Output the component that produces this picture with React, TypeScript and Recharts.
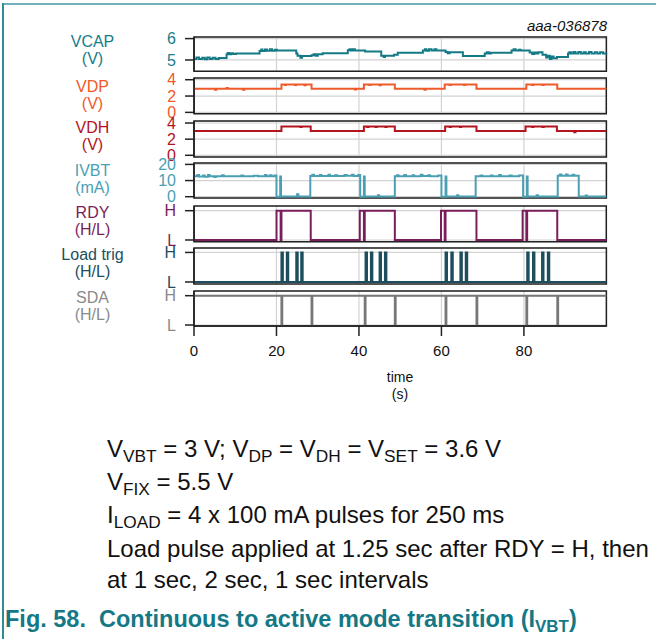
import { LineChart, Line, XAxis, YAxis, CartesianGrid, ReferenceArea } from 'recharts';

// time axis (s)
const timeTicks = [0, 20, 40, 60, 80];

// VCAP (V), step trace [t, v]
const vcap: [number, number][] = [
  [0, 5.04], [0.6, 5.11], [1.2, 5.04], [2.0, 5.1], [2.6, 5.03], [3.2, 5.11], [3.8, 5.05], [4.5, 5.1], [5.2, 5.04],
  [6.0, 5.09], [7.9, 5.27], [8.2, 5.33], [8.5, 5.27], [9.0, 5.32], [9.5, 5.28], [10.2, 5.3], [15.9, 5.42],
  [16.3, 5.49], [16.6, 5.42], [17.2, 5.49], [17.7, 5.43], [18.4, 5.5], [18.9, 5.43], [19.6, 5.48], [20.1, 5.44],
  [24.8, 5.3], [25.1, 5.2], [25.8, 5.1], [26.2, 5.19], [28.5, 5.22], [29.0, 5.27], [29.5, 5.2], [30.0, 5.27],
  [31.2, 5.32], [37.3, 5.45], [37.7, 5.5], [38.0, 5.44], [38.5, 5.5], [39.0, 5.44], [41.5, 5.4], [45.4, 5.2],
  [46.0, 5.14], [46.3, 5.2], [48.5, 5.24], [49.4, 5.34], [55.5, 5.44], [56.0, 5.5], [56.4, 5.43], [57.0, 5.5],
  [57.6, 5.44], [58.3, 5.5], [58.8, 5.44], [61.0, 5.37], [61.5, 5.31], [62.0, 5.36], [65.2, 5.19], [70.5, 5.3],
  [71.0, 5.36], [71.5, 5.3], [72.0, 5.34], [77.0, 5.44], [77.5, 5.5], [78.0, 5.44], [78.8, 5.48], [79.2, 5.44],
  [81.4, 5.35], [82.0, 5.28], [82.5, 5.35], [83.0, 5.3], [83.5, 5.36], [84.5, 5.25], [85.4, 5.12], [85.8, 5.2],
  [86.3, 5.05], [86.7, 5.16], [87.2, 5.08], [88.0, 5.14], [90.7, 5.3], [91.0, 5.36], [91.4, 5.3], [92.0, 5.37],
  [92.5, 5.3], [93.2, 5.37], [93.8, 5.3], [94.5, 5.36], [95.0, 5.3], [95.8, 5.37], [96.4, 5.3], [97.2, 5.36],
  [97.8, 5.3], [98.5, 5.36], [99.2, 5.3], [100, 5.32],
];

// VDP (V)
const vdp: [number, number][] = [
  [0, 2.9], [5.1, 2.78], [5.4, 2.9], [7.9, 3.0], [8.2, 2.9], [11.9, 2.78], [12.2, 2.9], [21.2, 3.42],
  [22.0, 3.34], [22.3, 3.42], [24.5, 3.34], [24.8, 3.42], [26.8, 3.32], [27.1, 3.42], [28.5, 2.9], [39.0, 2.8],
  [39.3, 2.9], [41.2, 3.42], [42.5, 3.34], [42.8, 3.42], [45.0, 3.33], [45.3, 3.42], [48.7, 2.9], [55.9, 2.78],
  [56.2, 2.9], [60.8, 3.42], [62.0, 3.34], [62.3, 3.42], [65.5, 3.34], [65.8, 3.42], [68.5, 2.9], [80.6, 3.42],
  [82.0, 3.34], [82.3, 3.42], [84.5, 3.34], [84.8, 3.42], [88.1, 2.9], [100, 2.9],
];

// VDH (V)
const vdh: [number, number][] = [
  [0, 3.0], [21.2, 3.58], [25.8, 3.5], [26.1, 3.58], [28.3, 3.0], [41.2, 3.58], [42.0, 3.5], [42.3, 3.58],
  [44.0, 3.5], [44.3, 3.58], [46.4, 3.5], [46.7, 3.58], [48.7, 3.0], [60.9, 3.58], [62.0, 3.5], [62.3, 3.58],
  [64.5, 3.5], [64.8, 3.58], [68.5, 3.0], [80.4, 3.58], [82.0, 3.5], [82.3, 3.58], [84.5, 3.5], [84.8, 3.58],
  [88.0, 3.0], [92.2, 2.85], [92.5, 3.0], [100, 3.0],
];

// IVBT (mA)
const ivbt: [number, number][] = [
  [0, 12.6], [0.8, 13.4], [1.2, 12.5], [2.2, 13.2], [2.6, 12.4], [3.4, 13.5], [3.8, 12.6], [4.9, 12.2],
  [5.3, 12.6], [6.8, 13.3], [7.2, 12.6], [11.5, 13.2], [11.9, 12.6], [14.5, 12.9], [15.5, 12.6], [17.2, 13.4],
  [17.6, 12.6], [18.4, 13.3], [18.8, 12.6], [19.5, 13.2], [20.0, 0], [20.9, 12.5], [21.1, 0.2], [25.0, 1.5],
  [25.3, 0.2], [28.2, 12.8], [28.7, 13.6], [29.1, 12.8], [30.5, 13.4], [30.9, 12.8], [32.6, 13.6], [33.0, 12.8],
  [34.2, 13.3], [34.7, 12.8], [36.5, 13.5], [37.0, 12.9], [38.3, 13.6], [38.7, 12.8], [39.8, 13.5], [40.3, 0],
  [41.2, 12.5], [41.4, 0.2], [44.6, 0.9], [44.9, 0.2], [48.7, 12.6], [49.2, 13.3], [49.6, 12.6], [51.0, 13.5],
  [51.4, 12.7], [53.0, 13.3], [53.4, 12.6], [55.0, 13.6], [55.4, 12.8], [56.8, 13.3], [57.2, 12.6], [59.2, 13.2],
  [60.0, 0], [61.0, 12.5], [61.2, 0.2], [63.8, 0.9], [64.1, 0.2], [68.3, 12.7], [69.5, 13.2], [69.9, 12.7],
  [72.0, 13.2], [72.4, 12.7], [74.0, 13.4], [74.4, 12.7], [76.5, 13.2], [77.0, 12.7], [78.8, 13.2], [79.8, 0],
  [80.7, 12.5], [80.9, 0.2], [83.1, 0.9], [83.4, 0.2], [88.2, 13.0], [88.7, 13.8], [89.1, 13.0], [90.2, 13.8],
  [90.6, 13.0], [91.8, 13.6], [92.2, 13.0], [93.3, 0.2], [95.0, 0.8], [95.3, 0.2], [100, 0.2],
];

// RDY (1 = H, 0 = L)
const rdy: [number, number][] = [
  [0, 0], [20.0, 1], [21.0, 0], [21.2, 1], [28.3, 0], [40.2, 1], [41.2, 0], [41.4, 1], [48.7, 0],
  [59.9, 1], [60.8, 0], [61.0, 1], [68.5, 0], [79.7, 1], [80.6, 0], [80.8, 1], [88.1, 0], [100, 0],
];

// Load trig pulse start times (s), 250 ms pulses
const loadStarts = [21.2, 22.5, 24.8, 26.0, 41.6, 42.9, 45.0, 46.3, 61.0, 62.4, 64.6, 65.9, 80.8, 82.2, 84.4, 85.8];
const LOAD_W = 0.35;

// SDA low pulses (s)
const sdaDrops = [21.2, 28.5, 41.4, 48.7, 61.0, 68.5, 80.6, 88.1];
const SDA_W = 0.2;

const FONT = 'Liberation Sans, Arial, Helvetica, sans-serif';
const PLOT_L = 194.3;
const PLOT_W = 412.4;
const AXIS_W = 44;

const toRows = (pts: [number, number][]) => pts.map(([t, v]) => ({ t, v }));
const loadData = [
  { t: 0, v: 0 },
  ...loadStarts.flatMap((s) => [{ t: s, v: 1 }, { t: s + LOAD_W, v: 0 }]),
  { t: 100, v: 0 },
];
const sdaData = [
  { t: 0, v: 1 },
  ...sdaDrops.flatMap((s) => [{ t: s, v: 0 }, { t: s + SDA_W, v: 1 }]),
  { t: 100, v: 1 },
];

const hl = (v: number) => (v === 1 ? 'H' : 'L');

interface PanelProps {
  data: { t: number; v: number }[];
  top: number;
  height: number;
  domain: [number, number];
  ticks: number[];
  color: string;
  tickColor: string;
  fmt?: (v: number) => string;
  showX?: boolean;
}

const Panel = ({ data, top, height, domain, ticks, color, tickColor, fmt, showX }: PanelProps) => {
  const xH = showX ? 50 : 0;
  return (
    <div style={{ position: 'absolute', left: PLOT_L - AXIS_W, top }}>
      <LineChart width={AXIS_W + PLOT_W} height={height + xH} data={data} margin={{ top: 0, right: 0, bottom: 0, left: 0 }}>
        <CartesianGrid stroke="#d2d2d2" strokeWidth={1.2} />
        <XAxis
          dataKey="t"
          type="number"
          domain={[0, 100]}
          ticks={timeTicks}
          interval={0}
          hide={!showX}
          height={xH}
          axisLine={{ stroke: '#222', strokeWidth: 1.5 }}
          tickLine={{ stroke: '#222', strokeWidth: 1.5 }}
          tickSize={10}
          tickMargin={9}
          tick={{ fontSize: 15, fill: '#111', fontFamily: FONT }}
        />
        <YAxis
          type="number"
          domain={domain}
          ticks={ticks}
          interval={0}
          width={AXIS_W}
          allowDataOverflow
          tickFormatter={fmt}
          axisLine={{ stroke: '#222', strokeWidth: 1.5 }}
          tickLine={{ stroke: '#222', strokeWidth: 1.5 }}
          tickSize={9}
          tickMargin={9}
          tick={{ fontSize: 16, fill: tickColor, fontFamily: FONT }}
        />
        <ReferenceArea x1={0} x2={100} y1={domain[0]} y2={domain[1]} fill="none" stroke="#222" strokeWidth={1.5} />
        <Line dataKey="v" type="stepAfter" stroke={color} strokeWidth={2} dot={false} isAnimationActive={false} />
      </LineChart>
    </div>
  );
};

const SideLabel = ({ lines, c1, color }: { lines: string[]; c1: number; color: string }) => (
  <>
    {lines.map((l, i) => (
      <div
        key={i}
        style={{
          position: 'absolute',
          left: 32,
          width: 121,
          textAlign: 'center',
          top: c1 + i * 17 - 8,
          fontSize: 16,
          lineHeight: '16px',
          color,
        }}
      >
        {l}
      </div>
    ))}
  </>
);

const Sub = ({ children }: { children: string }) => (
  <span style={{ fontSize: '0.72em', verticalAlign: '-0.28em', lineHeight: 0 }}>{children}</span>
);

const noteLine = (top: number, content: any) => (
  <div style={{ position: 'absolute', left: 107, top, fontSize: 24, lineHeight: '24px', color: '#111', whiteSpace: 'nowrap' }}>
    {content}
  </div>
);

const App = () => {
  const cTeal = '#167d89';
  return (
    <div style={{ position: 'absolute', left: 0, top: 0, width: 656, height: 639, background: '#fff', fontFamily: FONT, overflow: 'hidden' }}>
      <style>{'.recharts-surface{overflow:visible}'}</style>
      {/* frame */}
      <div style={{ position: 'absolute', left: 2, top: 3, width: 660, height: 2, background: '#6fb2b9' }} />
      <div style={{ position: 'absolute', left: 2, top: 3, width: 1.5, height: 640, background: '#2f8c97' }} />

      <div style={{ position: 'absolute', left: 480, width: 127, textAlign: 'right', top: 17, fontSize: 15, fontStyle: 'italic', color: '#111' }}>
        aaa-036878
      </div>

      <SideLabel lines={['VCAP', '(V)']} c1={42} color={cTeal} />
      <SideLabel lines={['VDP', '(V)']} c1={87} color="#f0592a" />
      <SideLabel lines={['VDH', '(V)']} c1={128} color="#b3141d" />
      <SideLabel lines={['IVBT', '(mA)']} c1={170.5} color="#4a9fb3" />
      <SideLabel lines={['RDY', '(H/L)']} c1={212.5} color="#7a1e5b" />
      <SideLabel lines={['Load trig', '(H/L)']} c1={255} color="#1c4e5d" />
      <SideLabel lines={['SDA', '(H/L)']} c1={297.5} color="#8a8a8a" />

      <Panel data={toRows(vcap)} top={36.7} height={34.3} domain={[4.47, 6.075]} ticks={[5, 6]} color="#137985" tickColor={cTeal} />
      <Panel data={toRows(vdp)} top={78.3} height={35.7} domain={[-0.16, 4.21]} ticks={[0, 2, 4]} color="#ef5a2b" tickColor="#f0592a" />
      <Panel data={toRows(vdh)} top={120.7} height={36} domain={[-0.21, 4.25]} ticks={[0, 2, 4]} color="#b3141d" tickColor="#b3141d" />
      <Panel data={toRows(ivbt)} top={163.3} height={35} domain={[-0.8, 20.87]} ticks={[0, 10, 20]} color="#4a9fb3" tickColor="#4a9fb3" />
      <Panel data={toRows(rdy)} top={206} height={35.7} domain={[-0.058, 1.16]} ticks={[0, 1]} fmt={hl} color="#7a1e5b" tickColor="#7a1e5b" />
      <Panel data={loadData} top={248.3} height={36} domain={[-0.068, 1.15]} ticks={[0, 1]} fmt={hl} color="#1c4e5d" tickColor="#1c4e5d" />
      <Panel data={sdaData} top={291} height={35} domain={[-0.034, 1.16]} ticks={[0, 1]} fmt={hl} color="#777" tickColor="#8a8a8a" showX />

      <div style={{ position: 'absolute', left: 340, width: 120, textAlign: 'center', top: 369, fontSize: 14, lineHeight: '17px', color: '#111' }}>
        time
        <br />
        (s)
      </div>

      {noteLine(437, <>V<Sub>VBT</Sub> = 3 V; V<Sub>DP</Sub> = V<Sub>DH</Sub> = V<Sub>SET</Sub> = 3.6 V</>)}
      {noteLine(470, <>V<Sub>FIX</Sub> = 5.5 V</>)}
      {noteLine(503, <>I<Sub>LOAD</Sub> = 4 x 100 mA pulses for 250 ms</>)}
      {noteLine(537, <>Load pulse applied at 1.25 sec after RDY = H, then</>)}
      {noteLine(568, <>at 1 sec, 2 sec, 1 sec intervals</>)}

      <div style={{ position: 'absolute', left: 5, top: 607, fontSize: 23.5, lineHeight: '24px', fontWeight: 'bold', color: '#147985', whiteSpace: 'nowrap' }}>
        Fig. 58.&nbsp;&nbsp;Continuous to active mode transition (I<Sub>VBT</Sub>)
      </div>
    </div>
  );
};

export default App;
